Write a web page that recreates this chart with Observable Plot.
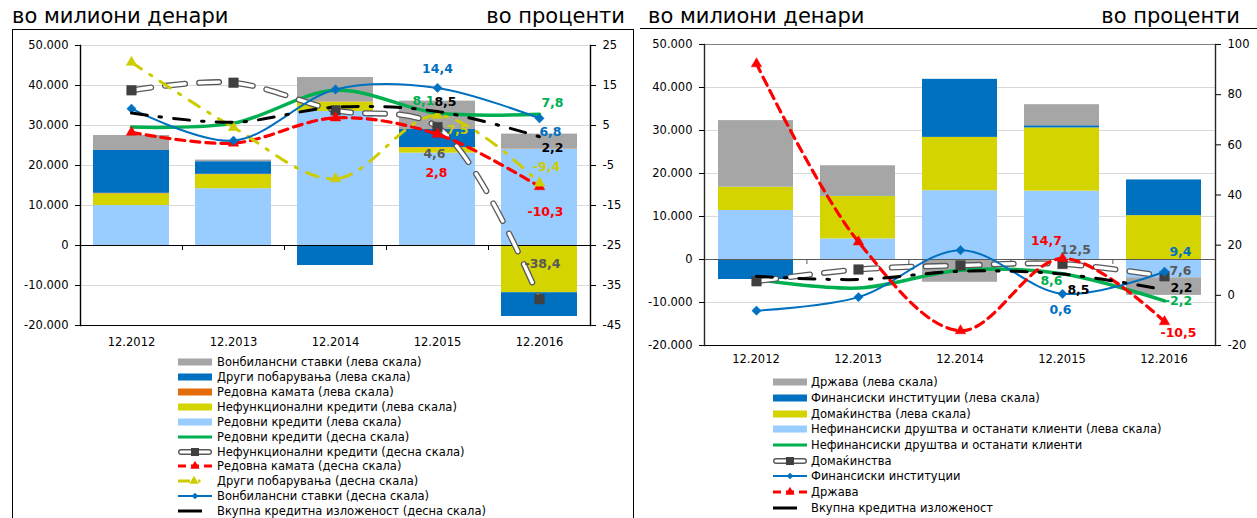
<!DOCTYPE html>
<html><head><meta charset="utf-8">
<script src="https://cdn.jsdelivr.net/npm/d3@7"></script>
<script src="https://cdn.jsdelivr.net/npm/@observablehq/plot@0.6"></script>
<style>
body{margin:0;background:#fff;}
#root{position:relative;width:1257px;height:518px;overflow:hidden;font-family:"DejaVu Sans",Verdana,sans-serif;}
</style></head><body><div id="root"></div>
<script>
// ================= DATA =================
const categories = ["12.2012", "12.2013", "12.2014", "12.2015", "12.2016"];

// ---- Left panel: bars (millions of denars, left scale), stack order bottom -> top
const leftBarSeries = [
  "Редовни кредити (лева скала)",
  "Нефункционални кредити (лева скала)",
  "Редовна камата (лева скала)",
  "Други побарувања (лева скала)",
  "Вонбилансни ставки (лева скала)"
];
const leftRegularLoans   = [10000, 14200, 33500, 23100, 24000];
const leftNonPerforming  = [2900, 3500, 2300, 1300, -11800];
const leftRegularInterest = [150, 100, 100, 100, 100];
const leftOtherClaims    = [10700, 3150, -5000, 4500, -5950];
const leftOffBalance     = [3750, 400, 6100, 7100, 3750];

// ---- Left panel: lines (percent, right scale)
const leftLineSeries = [
  "Редовни кредити (десна скала)",
  "Нефункционални кредити (десна скала)",
  "Редовна камата (десна скала)",
  "Други побарувања (десна скала)",
  "Вонбилансни ставки (десна скала)",
  "Вкупна кредитна изложеност (десна скала)"
];
const leftRegularLoansPct   = [4.6, 5.6, 13.8, 8.1, 7.8];
const leftNonPerformingPct  = [13.8, 15.7, 8.8, 4.6, -38.4];
const leftRegularInterestPct = [3.3, 0.6, 6.9, 2.8, -10.3];
const leftOtherClaimsPct    = [20.8, 4.5, -8.3, 7.5, -9.4];
const leftOffBalancePct     = [9.2, 1.2, 14.0, 14.4, 6.8];
const leftTotalPct          = [8.1, 5.8, 9.6, 8.5, 2.2];

// ---- Right panel: bars (millions of denars, left scale), stack order bottom -> top
const rightBarSeries = [
  "Нефинансиски друштва и останати клиенти (лева скала)",
  "Домаќинства (лева скала)",
  "Финансиски институции (лева скала)",
  "Држава (лева скала)"
];
const rightNonFinancial = [11400, 4800, 16000, 15900, -4250];
const rightHouseholds   = [5400, 9900, 12400, 14700, 10200];
const rightFinancial    = [-4650, 100, 13500, 500, 8300];
const rightGovernment   = [15500, 7000, -5300, 4900, -4100];

// ---- Right panel: lines (percent, right scale)
const rightLineSeries = [
  "Нефинансиски друштва и останати клиенти",
  "Домаќинства",
  "Финансиски институции",
  "Држава",
  "Вкупна кредитна изложеност"
];
const rightNonFinancialPct = [6.3, 2.9, 10.0, 8.6, -2.2];
const rightHouseholdsPct   = [5.6, 10.3, 11.9, 12.5, 7.6];
const rightFinancialPct    = [-6.1, -0.7, 18.0, 0.6, 9.4];
const rightGovernmentPct   = [92.3, 21.3, -14.1, 14.7, -10.5];
const rightTotalPct        = [7.6, 6.3, 9.6, 8.5, 2.2];

// ---- Tick values
const leftPanelLeftTicks  = [-20000, -10000, 0, 10000, 20000, 30000, 40000, 50000];
const leftPanelRightTicks = [-45, -35, -25, -15, -5, 5, 15, 25];
const rightPanelLeftTicks = [-20000, -10000, 0, 10000, 20000, 30000, 40000, 50000];
const rightPanelRightTicks = [-20, 0, 20, 40, 60, 80, 100];

const titleLeft = "во милиони денари";
const titleRight = "во проценти";

// ================= STYLES / LAYOUT =================
const FONT = '"DejaVu Sans", Verdana, sans-serif';
const loc = d3.formatLocale({decimal: ",", thousands: ".", grouping: [3], currency: ["", ""], minus: "-"});
const fmtAxis = loc.format(",");
const fmtPct = loc.format(",.1f");

const BAR = {
  lightblue: {kind: "bar", color: "#99CCFF"},
  yellow: {kind: "bar", color: "#D4D400"},
  orange: {kind: "bar", color: "#E46C0A"},
  blue: {kind: "bar", color: "#0070C0"},
  gray: {kind: "bar", color: "#A6A6A6"}
};
const LINE = {
  green: {kind: "line", color: "#00B050", width: 3.5, label: "#00B050"},
  double: {kind: "double", color: "#595959", dash: "20,14", symbol: "square", r: 5.4, markerFill: "#404040", label: "#595959"},
  red: {kind: "line", color: "#FF0000", width: 3.2, dash: "9,6", symbol: "triangle", r: 3.9, markerFill: "#FF0000", label: "#FF0000", legendDash: "8,5"},
  yellow: {kind: "line", color: "#CCCC00", width: 3, dash: "12,10,2.5,10", symbol: "triangle", r: 3.9, markerFill: "#CCCC00", label: "#CCCC00", legendDash: "12,8,2.5,30", legendMarkerX: 16},
  blue: {kind: "line", color: "#0070C0", width: 2, symbol: "diamond2", r: 4.2, markerFill: "#0070C0", label: "#0070C0"},
  black: {kind: "line", color: "#000000", width: 3, dash: "16,12,2.5,12", label: "#000000", legendLen: 24}
};

const root = document.getElementById("root");
function addDiv(css, html) {
  const d = document.createElement("div");
  d.style.cssText = css;
  if (html != null) d.innerHTML = html;
  root.appendChild(d);
  return d;
}

function tidy(seriesNames, valueArrays) {
  return seriesNames.flatMap((s, si) => categories.map((c, i) => ({cat: c, series: s, value: valueArrays[si][i]})));
}

function lineMarks(values, st) {
  const data = categories.map((c, i) => ({cat: c, value: values[i]}));
  const base = {x: "cat", y: "value", curve: "catmull-rom"};
  const marks = [];
  if (st.kind === "double") {
    marks.push(Plot.line(data, {...base, stroke: st.color, strokeWidth: 6, strokeDasharray: st.dash, strokeLinecap: "round"}));
    marks.push(Plot.line(data, {...base, stroke: "#ffffff", strokeWidth: 3.4, strokeDasharray: st.dash, strokeLinecap: "round"}));
  } else {
    marks.push(Plot.line(data, {...base, stroke: st.color, strokeWidth: st.width, strokeDasharray: st.dash}));
  }
  if (st.symbol) {
    marks.push(Plot.dot(data, {x: "cat", y: "value", symbol: st.symbol, r: st.r, fill: st.markerFill, stroke: st.markerFill, strokeWidth: 0.5}));
  }
  return marks;
}

function labelMarks(layout, valueArrays, styles) {
  return layout.map(l => {
    const i = categories.indexOf(l.cat);
    const d = {cat: l.cat, value: valueArrays[l.s][i]};
    return Plot.text([d], {x: "cat", y: "value", text: v => fmtPct(v.value), dx: l.dx, dy: l.dy,
      fill: styles[l.s].label, fontWeight: "bold", fontSize: 12.5});
  });
}

function panel(cfg) {
  const wrap = document.createElement("div");
  wrap.style.cssText = `position:absolute;left:${cfg.left}px;top:0;width:${cfg.width}px;height:${cfg.height}px;`;
  root.appendChild(wrap);
  const innerW = cfg.width - cfg.ml - cfg.mr;
  const innerH = cfg.height - cfg.mt - cfg.mb;
  const step = innerW / categories.length;
  const common = {
    width: cfg.width, height: cfg.height,
    marginLeft: cfg.ml, marginRight: cfg.mr, marginTop: cfg.mt, marginBottom: cfg.mb,
    style: {fontFamily: FONT, fontSize: "11.5px", background: "transparent", color: "#000", overflow: "visible"}
  };
  const xOpt = {domain: categories, paddingInner: cfg.pad, paddingOuter: cfg.pad / 2, label: null};
  const perPx = (cfg.leftDomain[1] - cfg.leftDomain[0]) / innerH;

  const bars = tidy(cfg.barSeries, cfg.barValues);
  const barPlot = Plot.plot({
    ...common,
    x: xOpt,
    y: {domain: cfg.leftDomain, label: null},
    color: {domain: cfg.barSeries, range: cfg.barStyles.map(s => s.color)},
    marks: [
      Plot.gridY(cfg.leftTicks, {stroke: "#D9D9D9", strokeOpacity: 1}),
      Plot.barY(bars, {x: "cat", y: "value", fill: "series"}),
      Plot.ruleY([0], {stroke: cfg.zeroColor, strokeWidth: 1.2}),
      Plot.ruleX(categories.slice(1), {x: d => d, dx: -step / 2, y1: 0, y2: -5 * perPx, stroke: cfg.zeroColor}),
      Plot.ruleY([cfg.leftDomain[0]], {stroke: "#000", strokeWidth: 1.2}),
      Plot.ruleY([cfg.leftDomain[1]], {stroke: cfg.topColor, strokeWidth: 1}),
      Plot.axisY(cfg.leftTicks, {anchor: "left", tickFormat: fmtAxis, tickSize: 5, tickPadding: cfg.tickPad, label: null, fontSize: 11.5}),
      Plot.axisX({anchor: "bottom", tickSize: 0, tickPadding: cfg.xPad, label: null, fontSize: 11.5}),
      Plot.frame({anchor: "left", stroke: cfg.axisColor, strokeWidth: 1.4})
    ]
  });
  barPlot.style.position = "absolute"; barPlot.style.left = "0"; barPlot.style.top = "0";
  wrap.appendChild(barPlot);

  const lm = cfg.lineValues.flatMap((v, i) => lineMarks(v, cfg.lineStyles[i]));
  const linePlot = Plot.plot({
    ...common,
    x: {...xOpt, axis: null},
    y: {domain: cfg.rightDomain, label: null},
    marks: [
      Plot.axisY(cfg.rightTicks, {anchor: "right", tickFormat: fmtAxis, tickSize: 5, tickPadding: cfg.tickPad, label: null, fontSize: 11.5}),
      Plot.frame({anchor: "right", stroke: cfg.axisColor, strokeWidth: 1.4}),
      ...lm,
      ...labelMarks(cfg.labels, cfg.lineValues, cfg.lineStyles)
    ]
  });
  linePlot.style.position = "absolute"; linePlot.style.left = "0"; linePlot.style.top = "0";
  wrap.appendChild(linePlot);
}

function symbolPath(name, size) {
  const map = {square: d3.symbolSquare, triangle: d3.symbolTriangle, diamond2: d3.symbolDiamond2};
  return d3.symbol(map[name], size)();
}

function swatch(st, w) {
  const h = 12, c = 6;
  let g = "";
  if (st.kind === "bar") {
    g = `<rect x="0" y="${c - 3.5}" width="${w}" height="7" fill="${st.color}"/>`;
  } else {
    const len = st.legendLen || w;
    if (st.kind === "double") {
      g += `<line x1="3" x2="${len - 3}" y1="${c}" y2="${c}" stroke="${st.color}" stroke-width="6" stroke-linecap="round"/>`;
      g += `<line x1="3" x2="${len - 3}" y1="${c}" y2="${c}" stroke="#fff" stroke-width="3.2" stroke-linecap="round"/>`;
    } else {
      const dash = st.legendDash || "";
      g += `<line x1="0" x2="${len}" y1="${c}" y2="${c}" stroke="${st.color}" stroke-width="${Math.min(st.width, 3.2)}"${dash ? ` stroke-dasharray="${dash}"` : ""}/>`;
    }
    if (st.symbol) {
      const sz = st.symbol === "square" ? 64 : st.symbol === "triangle" ? 36 : 28;
      const mx = st.legendMarkerX || len / 2;
      g += `<path transform="translate(${mx},${c})" d="${symbolPath(st.symbol, sz)}" fill="${st.markerFill}"/>`;
    }
  }
  return `<svg width="${w}" height="${h}" style="display:block;overflow:visible">${g}</svg>`;
}

function legend(items, x0, y0, dy, swW, gap) {
  items.forEach((it, i) => {
    const cy = y0 + i * dy;
    addDiv(`position:absolute;left:${x0}px;top:${cy - 8}px;height:16px;display:flex;align-items:center;font-size:11.5px;font-family:${FONT};white-space:nowrap;color:#000`,
      swatch(it.style, swW) + `<span style="margin-left:${gap}px">${it.label}</span>`);
  });
}

// ---------- frames & titles ----------
addDiv("position:absolute;left:12px;top:29px;width:622px;height:600px;border:1px solid #000;box-sizing:border-box;");
addDiv("position:absolute;left:640px;top:28px;width:617px;height:1px;background:#000;");
const tcss = `position:absolute;top:6px;font-size:21px;line-height:1;white-space:nowrap;color:#000;font-family:${FONT};`;
addDiv(tcss + "left:12px;", titleLeft);
addDiv(tcss + "right:" + (1257 - 625) + "px;", titleRight);
addDiv(tcss + "left:648px;", titleLeft);
addDiv(tcss + "right:" + (1257 - 1240) + "px;", titleRight);

// ---------- left panel ----------
const leftLineStyles = [LINE.green, LINE.double, LINE.red, LINE.yellow, LINE.blue, LINE.black];
const leftBarStyles = [BAR.lightblue, BAR.yellow, BAR.orange, BAR.blue, BAR.gray];
panel({
  left: 0, width: 640, height: 355, ml: 80, mr: 50, mt: 45, mb: 30, pad: 0.255,
  leftDomain: [-20000, 50000], rightDomain: [-45, 25],
  leftTicks: leftPanelLeftTicks, rightTicks: leftPanelRightTicks,
  barSeries: leftBarSeries,
  barValues: [leftRegularLoans, leftNonPerforming, leftRegularInterest, leftOtherClaims, leftOffBalance],
  barStyles: leftBarStyles,
  lineValues: [leftRegularLoansPct, leftNonPerformingPct, leftRegularInterestPct, leftOtherClaimsPct, leftOffBalancePct, leftTotalPct],
  lineStyles: leftLineStyles,
  zeroColor: "#000", topColor: "#D9D9D9", axisColor: "#000", tickPad: 7, xPad: 12,
  labels: [
    {s: 4, cat: "12.2015", dx: 0, dy: -19},
    {s: 0, cat: "12.2015", dx: -14, dy: -12},
    {s: 5, cat: "12.2015", dx: 8, dy: -10},
    {s: 3, cat: "12.2015", dx: 20, dy: 14},
    {s: 1, cat: "12.2015", dx: -3, dy: 27},
    {s: 2, cat: "12.2015", dx: -1, dy: 39},
    {s: 0, cat: "12.2016", dx: 13, dy: -11},
    {s: 4, cat: "12.2016", dx: 11, dy: 14},
    {s: 5, cat: "12.2016", dx: 13, dy: 11},
    {s: 3, cat: "12.2016", dx: 7, dy: -16},
    {s: 2, cat: "12.2016", dx: 6, dy: 25},
    {s: 1, cat: "12.2016", dx: 3, dy: -35}
  ]
});

// ---------- right panel ----------
const rightLineStyles = [LINE.green, LINE.double, LINE.blue, LINE.red, LINE.black];
const rightBarStyles = [BAR.lightblue, BAR.yellow, BAR.blue, BAR.gray];
panel({
  left: 640, width: 617, height: 375, ml: 64, mr: 42, mt: 44, mb: 30, pad: 0.265,
  leftDomain: [-20000, 50000], rightDomain: [-20, 100],
  leftTicks: rightPanelLeftTicks, rightTicks: rightPanelRightTicks,
  barSeries: rightBarSeries,
  barValues: [rightNonFinancial, rightHouseholds, rightFinancial, rightGovernment],
  barStyles: rightBarStyles,
  lineValues: [rightNonFinancialPct, rightHouseholdsPct, rightFinancialPct, rightGovernmentPct, rightTotalPct],
  lineStyles: rightLineStyles,
  zeroColor: "#595959", topColor: "#7F7F7F", axisColor: "#262626", tickPad: 7, xPad: 9,
  labels: [
    {s: 3, cat: "12.2015", dx: -16, dy: -17},
    {s: 1, cat: "12.2015", dx: 13, dy: -14},
    {s: 0, cat: "12.2015", dx: -11, dy: 7},
    {s: 4, cat: "12.2015", dx: 16, dy: 16},
    {s: 2, cat: "12.2015", dx: -2, dy: 16},
    {s: 2, cat: "12.2016", dx: 16, dy: -20},
    {s: 1, cat: "12.2016", dx: 16, dy: -5},
    {s: 4, cat: "12.2016", dx: 17, dy: -2},
    {s: 0, cat: "12.2016", dx: 14, dy: 0},
    {s: 3, cat: "12.2016", dx: 14, dy: 11}
  ]
});

// ---------- legends ----------
const leftLegendItems = [
  ...leftBarSeries.map((s, i) => ({label: s, style: leftBarStyles[i]})).reverse(),
  ...leftLineSeries.map((s, i) => ({label: s, style: leftLineStyles[i]}))
];
legend(leftLegendItems, 178, 362.3, 14.87, 34, 5);

const rightLegendItems = [
  ...rightBarSeries.map((s, i) => ({label: s, style: rightBarStyles[i]})).reverse(),
  ...rightLineSeries.map((s, i) => ({label: s, style: rightLineStyles[i]}))
];
legend(rightLegendItems, 773, 382.3, 15.67, 34, 4);
</script></body></html>
